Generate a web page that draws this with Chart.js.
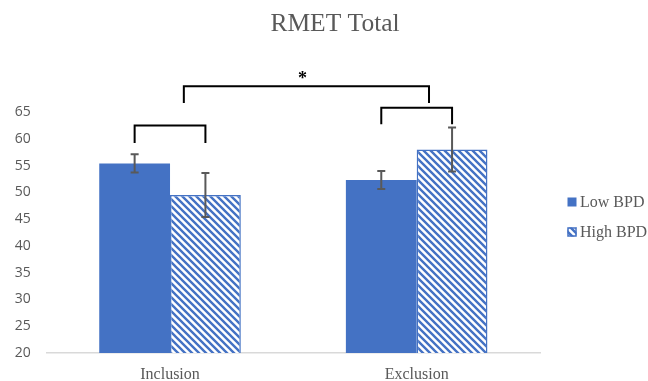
<!DOCTYPE html>
<html>
<head>
<meta charset="utf-8">
<script src="https://cdn.jsdelivr.net/npm/chart.js@4.4.1/dist/chart.umd.min.js"></script>
<style>
  html, body { margin: 0; padding: 0; background: #fff; }
  #wrap { width: 648px; height: 381px; }
</style>
</head>
<body>
<div id="wrap"><canvas id="chart"></canvas></div>
<script>
const categories = ['Inclusion', 'Exclusion'];
const seriesNames = ['Low BPD', 'High BPD'];
const lowBPD = [55.4, 52.3];
const highBPD = [49.5, 58.0];
const lowErr = [1.7, 1.7];
const highErr = [4.1, 4.1];
const yMin = 20, yMax = 65, yStep = 5;

// significance brackets: x in category units, top and leg-end in data units
const bracketX = [[-0.1435, 0.1435], [0.8565, 1.1435], [0.056, 1.05]];
const bracketTop = [62.5, 65.8, 69.8];
const bracketLeg = [59.2, 62.7, 66.7];
const bracketMark = ['', '', '*'];

const blue = '#4472C4';
const grey = '#595959';

function makeHatch() {
  const s = 6.5;
  const c = document.createElement('canvas');
  c.width = 7; c.height = 7;
  const g = c.getContext('2d');
  g.fillStyle = '#fff';
  g.fillRect(0, 0, 7, 7);
  g.strokeStyle = blue;
  g.lineWidth = 2.4;
  g.beginPath();
  g.moveTo(-1, -1); g.lineTo(8, 8);
  g.moveTo(-1, 6); g.lineTo(1, 8);
  g.moveTo(6, -1); g.lineTo(8, 1);
  g.stroke();
  return g.createPattern(c, 'repeat');
}
const hatch = makeHatch();

const extras = {
  id: 'extras',
  afterDatasetsDraw(chart) {
    const ctx = chart.ctx;
    const xs = chart.scales.x, ys = chart.scales.y;
    ctx.save();

    // error bars
    const errs = [lowErr, highErr];
    const vals = [lowBPD, highBPD];
    ctx.strokeStyle = grey;
    ctx.lineWidth = 2;
    for (let d = 0; d < 2; d++) {
      const meta = chart.getDatasetMeta(d);
      meta.data.forEach((bar, i) => {
        const top = ys.getPixelForValue(vals[d][i] + errs[d][i]);
        const bot = ys.getPixelForValue(vals[d][i] - errs[d][i]);
        ctx.beginPath();
        ctx.moveTo(bar.x, top); ctx.lineTo(bar.x, bot);
        ctx.moveTo(bar.x - 4, top); ctx.lineTo(bar.x + 4, top);
        ctx.moveTo(bar.x - 4, bot); ctx.lineTo(bar.x + 4, bot);
        ctx.stroke();
      });
    }

    // brackets
    ctx.strokeStyle = '#000';
    ctx.lineWidth = 2;
    ctx.fillStyle = '#000';
    ctx.font = 'bold 18px "Liberation Serif"';
    ctx.textAlign = 'center';
    ctx.textBaseline = 'middle';
    bracketX.forEach((bx, i) => {
      const x1 = xs.getPixelForValue(bx[0]);
      const x2 = xs.getPixelForValue(bx[1]);
      const t = ys.getPixelForValue(bracketTop[i]);
      const l = ys.getPixelForValue(bracketLeg[i]);
      ctx.beginPath();
      ctx.moveTo(x1, l); ctx.lineTo(x1, t); ctx.lineTo(x2, t); ctx.lineTo(x2, l);
      ctx.stroke();
      if (bracketMark[i]) ctx.fillText(bracketMark[i], (x1 + x2) / 2 - 4, t - 7);
    });

    // title
    ctx.fillStyle = grey;
    ctx.font = '25.5px "Liberation Serif"';
    ctx.fillText('RMET Total', 335, 24);

    // legend
    ctx.font = '16px "Liberation Serif"';
    ctx.textAlign = 'left';
    const fills = [blue, hatch];
    seriesNames.forEach((name, i) => {
      const cy = 202 + i * 30;
      ctx.fillStyle = fills[i];
      ctx.fillRect(567.5, cy - 4.5, 9, 9);
      if (i === 1) {
        ctx.strokeStyle = blue;
        ctx.lineWidth = 1.5;
        ctx.strokeRect(568, cy - 4, 8, 8);
      }
      ctx.fillStyle = grey;
      ctx.fillText(name, 580, cy + 1);
    });
    ctx.restore();
  }
};

new Chart(document.getElementById('chart'), {
  type: 'bar',
  data: {
    labels: categories,
    datasets: [
      {
        label: seriesNames[0],
        data: lowBPD,
        backgroundColor: blue,
        borderWidth: 0
      },
      {
        label: seriesNames[1],
        data: highBPD,
        backgroundColor: hatch,
        borderColor: blue,
        borderWidth: 1.5
      }
    ]
  },
  options: {
    responsive: true,
    maintainAspectRatio: false,
    animation: false,
    layout: { padding: { top: 112, right: 108, left: 0, bottom: 0 } },
    datasets: { bar: { categoryPercentage: 0.574, barPercentage: 1 } },
    scales: {
      x: {
        grid: { display: false, drawTicks: false },
        border: { display: true, color: '#d9d9d9', width: 1.5 },
        ticks: {
          padding: 12,
          color: grey,
          font: { family: 'Liberation Serif', size: 16 }
        },
        afterFit: (s) => { s.height = 28; }
      },
      y: {
        min: yMin,
        max: yMax,
        grid: { display: false, drawTicks: false },
        border: { display: false },
        ticks: {
          stepSize: yStep,
          padding: 16,
          color: grey,
          font: { family: 'Open Sans', size: 14 }
        },
        afterFit: (s) => { s.width = 46.7; }
      }
    },
    plugins: {
      legend: { display: false },
      title: { display: false },
      tooltip: { enabled: false }
    }
  },
  plugins: [extras]
});
</script>
</body>
</html>
